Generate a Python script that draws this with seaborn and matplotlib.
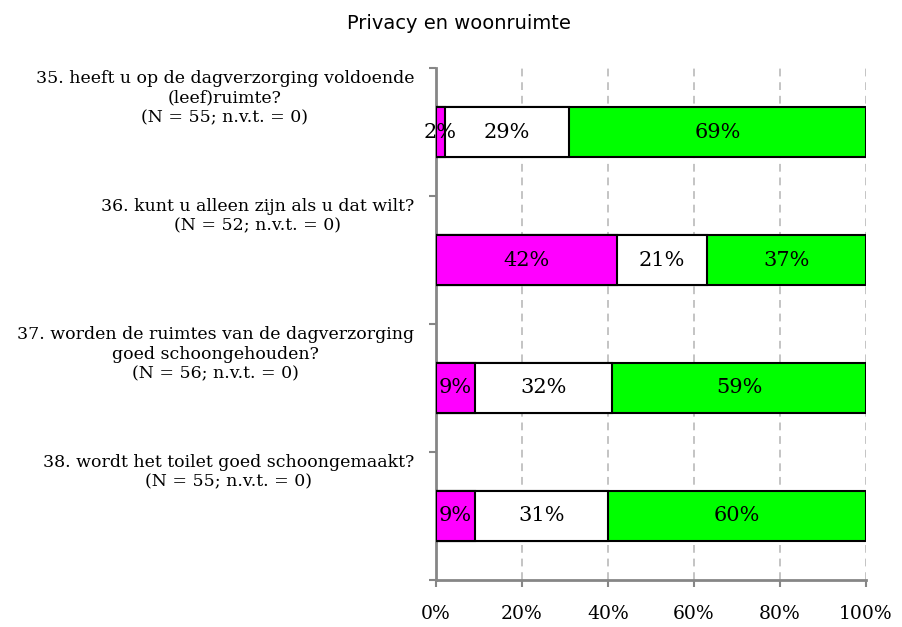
import matplotlib
matplotlib.use("Agg")
import matplotlib.pyplot as plt
import matplotlib.transforms as mtransforms
import seaborn as sns
import pandas as pd
import numpy as np

# ---- data ----
questions = [
    "35. heeft u op de dagverzorging voldoende\n(leef)ruimte?\n(N = 55; n.v.t. = 0)",
    "36. kunt u alleen zijn als u dat wilt?\n(N = 52; n.v.t. = 0)",
    "37. worden de ruimtes van de dagverzorging\ngoed schoongehouden?\n(N = 56; n.v.t. = 0)",
    "38. wordt het toilet goed schoongemaakt?\n(N = 55; n.v.t. = 0)",
]
neg = [2, 42, 9, 9]
mid = [29, 21, 32, 31]
pos = [69, 37, 59, 60]
xticks = [0, 20, 40, 60, 80, 100]
xticklabels = ["0%", "20%", "40%", "60%", "80%", "100%"]
title = "Privacy en woonruimte"

colors = ["#FF00FF", "#FFFFFF", "#00FF00"]

sns.set_theme(style="white")
plt.rcParams["font.family"] = ["DejaVu Serif"]
plt.rcParams["text.color"] = "black"
plt.rcParams["xtick.color"] = "black"

fig = plt.figure(figsize=(9.03, 6.27), dpi=100)
ax = fig.add_axes([0.4828, 0.075, 0.959 - 0.4828, 0.8915 - 0.075])

ids = [str(i) for i in range(len(questions))]
c1 = np.array(neg)
c2 = c1 + np.array(mid)
c3 = c2 + np.array(pos)
layers = [(c3, colors[2]), (c2, colors[1]), (c1, colors[0])]
for cum, col in layers:
    df = pd.DataFrame({"q": ids, "v": cum})
    sns.barplot(data=df, x="v", y="q", orient="h", color=col, saturation=1,
                width=0.39, edgecolor="black", linewidth=1.5, ax=ax, zorder=3)

# data labels
for i in range(len(questions)):
    segs = [(0, neg[i]), (c1[i], mid[i]), (c2[i], pos[i])]
    for left, w in segs:
        ax.text(left + w / 2, i, f"{w}%", ha="center", va="center",
                fontsize=15, color="black", zorder=5)

ax.set_xlim(0, 100)
ax.set_ylim(3.5, -0.5)
ax.set_xticks(xticks)
ax.set_xticklabels(xticklabels, fontsize=13.5, color="black")
ax.set_yticks([-0.5, 0.5, 1.5, 2.5, 3.5])
ax.set_yticklabels([])
ax.set_xlabel("")
ax.set_ylabel("")
ax.tick_params(axis="x", which="major", direction="out", length=5, width=1.5,
               color="#868686", bottom=True, pad=13)
ax.tick_params(axis="y", which="major", direction="out", length=5, width=1.5,
               color="#868686", left=True)

ax.grid(axis="x", color="#C4C4C4", linestyle=(0, (4, 3)), linewidth=1.4, zorder=0)
ax.grid(axis="y", visible=False)
ax.set_axisbelow(True)
for s in ["top", "right"]:
    ax.spines[s].set_visible(False)
for s in ["left", "bottom"]:
    ax.spines[s].set_color("#868686")
    ax.spines[s].set_linewidth(2)

# question labels
trans = mtransforms.blended_transform_factory(ax.transAxes, ax.transData)
for i, q in enumerate(questions):
    ax.text(-0.051, i - 0.485, q, transform=trans, ha="right", va="top",
            multialignment="center", fontsize=12.5, linespacing=1.22,
            color="black")

fig.text(0.508, 0.963, title, ha="center", va="center", fontsize=14,
         color="black", family=["DejaVu Sans"])

fig.savefig("out.png", dpi=100)
